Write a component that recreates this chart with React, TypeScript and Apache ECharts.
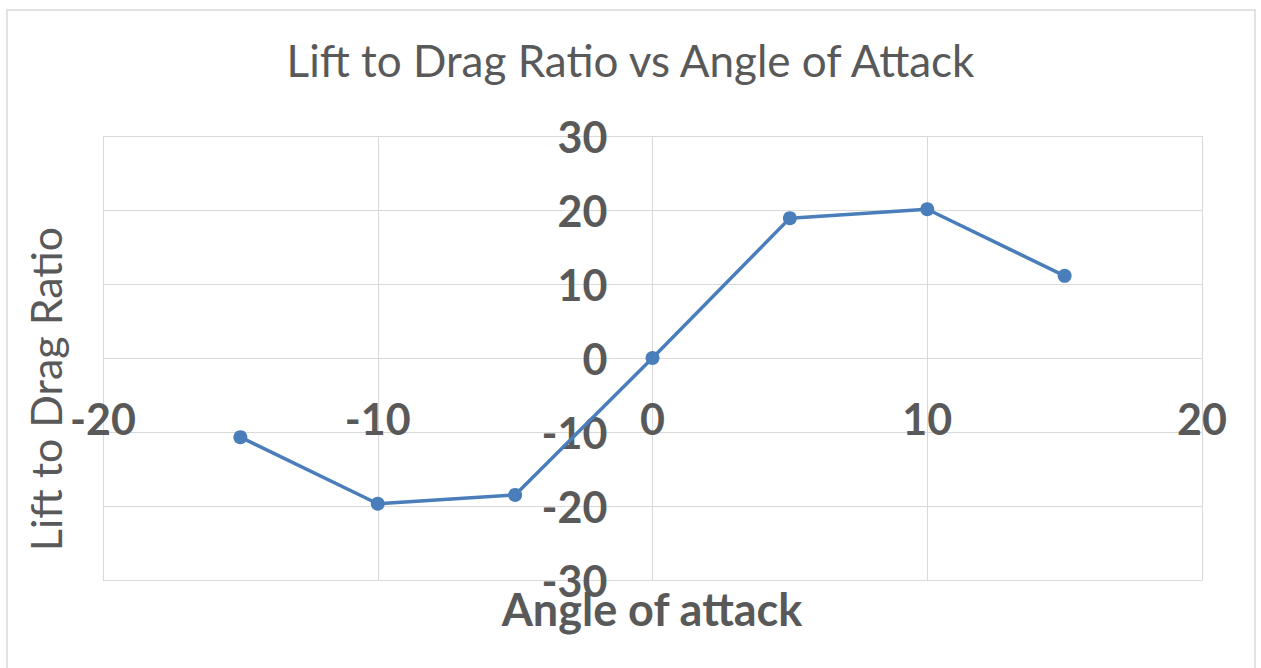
import React, { useEffect, useRef } from "react";
import * as echarts from "echarts";

const titleText = "Lift to Drag Ratio vs Angle of Attack";
const xAxisName = "Angle of attack";
const yAxisName = "Lift to Drag Ratio";
const angles = [-15, -10, -5, 0, 5, 10, 15];
const ratios = [-10.7, -19.7, -18.5, 0, 18.9, 20.1, 11.1];

const FONT = "Lato, 'Open Sans', sans-serif";
const GRAY = "#595959";

const GRID_LEFT = 103;
const GRID_RIGHT = 59;
const GRID_TOP = 136;
const GRID_BOTTOM = 88;
const W = 1261;
const H = 668;

export default function App() {
  const ref = useRef<HTMLDivElement>(null);
  useEffect(() => {
    if (!ref.current) return;
    const chart = echarts.init(ref.current, undefined, { renderer: "svg" });
    const plotW = W - GRID_LEFT - GRID_RIGHT;
    const plotH = H - GRID_TOP - GRID_BOTTOM;
    // move axes to the zero lines (x-axis at y=0, y-axis at x=0)
    const xOffset = -plotH / 2;
    const yOffset = -plotW / 2;
    chart.setOption({
      animation: false,
      backgroundColor: "#ffffff",
      title: {
        text: titleText,
        left: "center",
        top: 33,
        textStyle: { fontFamily: FONT, fontSize: 44, fontWeight: "normal", color: GRAY },
      },
      grid: {
        left: GRID_LEFT,
        right: GRID_RIGHT,
        top: GRID_TOP,
        bottom: GRID_BOTTOM,
        containLabel: false,
        outerBoundsMode: "none",
      },
      xAxis: {
        type: "value",
        min: -20,
        max: 20,
        interval: 10,
        position: "bottom",
        offset: xOffset,
        axisLine: { show: false, onZero: false },
        axisTick: { show: false },
        axisLabel: {
          margin: 39,
          fontFamily: FONT,
          fontSize: 43,
          fontWeight: "bold",
          color: GRAY,
          showMinLabel: true,
          showMaxLabel: true,
        },
        splitLine: { show: true, lineStyle: { color: "#d9d9d9", width: 1 } },
      },
      yAxis: {
        type: "value",
        min: -30,
        max: 30,
        interval: 10,
        position: "left",
        offset: yOffset,
        axisLine: { show: false, onZero: false },
        axisTick: { show: false },
        axisLabel: {
          margin: 45,
          fontFamily: FONT,
          fontSize: 43,
          fontWeight: "bold",
          color: GRAY,
          showMinLabel: true,
          showMaxLabel: true,
        },
        splitLine: { show: true, lineStyle: { color: "#d9d9d9", width: 1 } },
      },
      graphic: [
        {
          type: "rect",
          shape: { x: 7, y: 10, width: 1248, height: 700 },
          style: { fill: "none", stroke: "#d9d9d9", lineWidth: 1.5 },
          z: -1,
        },
        {
          type: "text",
          x: 652,
          y: 609,
          style: {
            text: xAxisName,
            fontFamily: FONT,
            fontSize: 45,
            fontWeight: "bold",
            fill: GRAY,
            textAlign: "center",
            textVerticalAlign: "middle",
          },
        },
        {
          type: "text",
          x: 45,
          y: 389,
          rotation: Math.PI / 2,
          style: {
            text: yAxisName,
            fontFamily: FONT,
            fontSize: 43,
            fontWeight: "normal",
            fill: GRAY,
            textAlign: "center",
            textVerticalAlign: "middle",
          },
        },
      ],
      series: [
        {
          type: "line",
          data: angles.map((a, i) => [a, ratios[i]]),
          symbol: "circle",
          symbolSize: 14,
          lineStyle: { color: "#4a7ebb", width: 3.5 },
          itemStyle: { color: "#4a7ebb" },
        },
      ],
    });
    return () => chart.dispose();
  }, []);
  return (
    <div
      ref={ref}
      style={{ position: "fixed", left: 0, top: 0, width: W, height: H }}
    />
  );
}
